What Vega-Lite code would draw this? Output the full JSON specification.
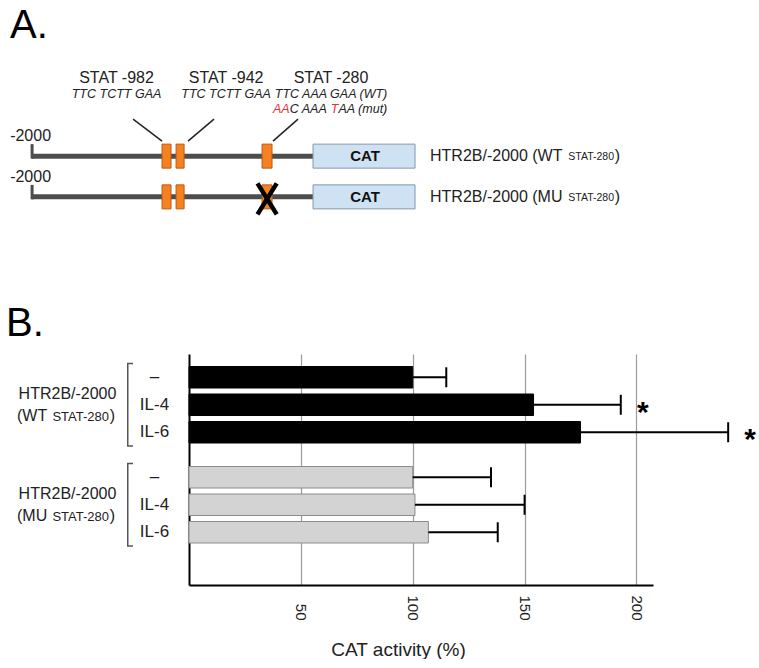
{
  "$schema": "https://vega.github.io/schema/vega-lite/v6.json",
  "padding": {"left": 6, "top": 6, "right": 0, "bottom": 0},
  "bounds": "flush",
  "spacing": 132,
  "config": {"view": {"stroke": null}, "font": "Liberation Sans", "text": {"font": "Liberation Sans", "color": "#222"}},
  "datasets": {
    "constructs": [
      {"row": "WT", "start": -2000, "cat_start": 0, "cat_end": 726, "label": "HTR2B/-2000 (WT", "small": "STAT-280"},
      {"row": "MU", "start": -2000, "cat_start": 0, "cat_end": 726, "label": "HTR2B/-2000 (MU", "small": "STAT-280"}
    ],
    "sites": [
      {"row": "WT", "site": "STAT -982", "seq": "TTC TCTT GAA", "pos": -1043, "start": -1075, "end": -1011, "label_at": -1399, "lead_from": -1075, "lead_to": -1281, "mutated": false},
      {"row": "WT", "site": "STAT -942", "seq": "TTC TCTT GAA", "pos": -947, "start": -975, "end": -918, "label_at": -619, "lead_from": -890, "lead_to": -705, "mutated": false},
      {"row": "WT", "site": "STAT -280", "seq": "TTC AAA GAA (WT)", "mut_a": "AA", "mut_b": "C AAA", "mut_c": "T", "mut_d": "AA (mut)", "pos": -327, "start": -363, "end": -292, "label_at": 128, "lead_from": -285, "lead_to": -107, "mutated": false},
      {"row": "MU", "site": "STAT -982", "pos": -1043, "start": -1075, "end": -1011, "mutated": false},
      {"row": "MU", "site": "STAT -942", "pos": -947, "start": -975, "end": -918, "mutated": false},
      {"row": "MU", "site": "STAT -280", "pos": -327, "start": -363, "end": -292, "mutated": true}
    ],
    "bars": [
      {"construct": "WT", "treatment": "–", "mean": 100, "upper": 115, "sig": ""},
      {"construct": "WT", "treatment": "IL-4", "mean": 154, "upper": 193, "sig": "*"},
      {"construct": "WT", "treatment": "IL-6", "mean": 175, "upper": 241, "sig": "*"},
      {"construct": "MU", "treatment": "–", "mean": 100, "upper": 135, "sig": ""},
      {"construct": "MU", "treatment": "IL-4", "mean": 101, "upper": 150, "sig": ""},
      {"construct": "MU", "treatment": "IL-6", "mean": 107, "upper": 138, "sig": ""}
    ],
    "groups": [
      {"construct": "WT", "name": "HTR2B/-2000", "open": "(WT", "small": "STAT-280"},
      {"construct": "MU", "name": "HTR2B/-2000", "open": "(MU", "small": "STAT-280"}
    ]
  },
  "vconcat": [
    {
      "width": 464,
      "height": 91,
      "title": {"text": "A.", "anchor": "start", "frame": "group", "fontSize": 40, "fontWeight": "normal", "color": "#000", "dx": -179, "offset": -8, "baseline": "alphabetic"},
      "layer": [
        {
          "data": {"name": "constructs"},
          "mark": {"type": "rule", "strokeWidth": 5, "color": "#4d4d4d"},
          "encoding": {
            "x": {"field": "start", "type": "quantitative", "scale": {"domain": [-883, 2420], "nice": false, "zero": false}, "axis": null},
            "x2": {"datum": 0},
            "y": {"field": "row", "type": "nominal", "scale": {"type": "point", "domain": ["WT", "MU"], "padding": 0.617}, "axis": null}
          }
        },
        {
          "data": {"name": "constructs"},
          "mark": {"type": "rule", "strokeWidth": 3, "color": "#4d4d4d", "yOffset": -12, "y2Offset": 2.5},
          "encoding": {
            "x": {"field": "start", "type": "quantitative"},
            "y": {"field": "row", "type": "nominal"},
            "y2": {"field": "row"}
          }
        },
        {
          "data": {"name": "constructs"},
          "mark": {"type": "text", "fontSize": 16, "align": "center", "baseline": "middle", "dy": -20, "dx": -1.5},
          "encoding": {
            "x": {"field": "start", "type": "quantitative"},
            "y": {"field": "row", "type": "nominal"},
            "text": {"field": "start", "type": "nominal"}
          }
        },
        {
          "data": {"name": "sites"},
          "mark": {"type": "bar", "size": 24, "fill": "#f58220", "stroke": "#c0561a", "strokeWidth": 1},
          "encoding": {
            "x": {"field": "start", "type": "quantitative"},
            "x2": {"field": "end"},
            "y": {"field": "row", "type": "nominal"}
          }
        },
        {
          "data": {"name": "constructs"},
          "mark": {"type": "bar", "size": 24, "fill": "#cfe2f3", "stroke": "#8696ab", "strokeWidth": 1},
          "encoding": {
            "x": {"field": "cat_start", "type": "quantitative"},
            "x2": {"field": "cat_end"},
            "y": {"field": "row", "type": "nominal"}
          }
        },
        {
          "data": {"name": "constructs"},
          "mark": {"type": "text", "text": "CAT", "fontSize": 15, "fontWeight": "bold", "align": "center", "baseline": "middle", "dx": 52, "color": "#111"},
          "encoding": {
            "x": {"field": "cat_start", "type": "quantitative"},
            "y": {"field": "row", "type": "nominal"}
          }
        },
        {
          "data": {"name": "constructs"},
          "mark": {"type": "text", "fontSize": 16, "align": "left", "baseline": "middle", "dx": 15},
          "encoding": {
            "x": {"field": "cat_end", "type": "quantitative"},
            "y": {"field": "row", "type": "nominal"},
            "text": {"field": "label"}
          }
        },
        {
          "data": {"name": "constructs"},
          "mark": {"type": "text", "fontSize": 10.5, "align": "right", "baseline": "middle", "dx": 199, "dy": 1},
          "encoding": {
            "x": {"field": "cat_end", "type": "quantitative"},
            "y": {"field": "row", "type": "nominal"},
            "text": {"field": "small"}
          }
        },
        {
          "data": {"name": "constructs"},
          "mark": {"type": "text", "text": ")", "fontSize": 16, "align": "right", "baseline": "middle", "dx": 205},
          "encoding": {
            "x": {"field": "cat_end", "type": "quantitative"},
            "y": {"field": "row", "type": "nominal"}
          }
        },
        {
          "data": {"name": "sites"},
          "transform": [{"filter": "datum.row === 'WT'"}],
          "mark": {"type": "rule", "strokeWidth": 1.5, "color": "#222", "yOffset": -15, "y2Offset": -37},
          "encoding": {
            "x": {"field": "lead_from", "type": "quantitative"},
            "x2": {"field": "lead_to"},
            "y": {"field": "row", "type": "nominal"},
            "y2": {"field": "row"}
          }
        },
        {
          "data": {"name": "sites"},
          "transform": [{"filter": "datum.row === 'WT'"}],
          "mark": {"type": "text", "fontSize": 16, "align": "center", "baseline": "middle", "dy": -78},
          "encoding": {
            "x": {"field": "label_at", "type": "quantitative"},
            "y": {"field": "row", "type": "nominal"},
            "text": {"field": "site"}
          }
        },
        {
          "data": {"name": "sites"},
          "transform": [{"filter": "datum.row === 'WT'"}],
          "mark": {"type": "text", "fontSize": 12.5, "fontStyle": "italic", "align": "center", "baseline": "middle", "dy": -62},
          "encoding": {
            "x": {"field": "label_at", "type": "quantitative"},
            "y": {"field": "row", "type": "nominal"},
            "text": {"field": "seq"}
          }
        },
        {
          "data": {"name": "sites"},
          "transform": [{"filter": "datum.row === 'WT' && datum.mut_a"}],
          "mark": {"type": "text", "color": "#e8303a", "fontSize": 12.5, "fontStyle": "italic", "align": "left", "baseline": "middle", "dy": -47, "dx": -58},
          "encoding": {
            "x": {"field": "label_at", "type": "quantitative"},
            "y": {"field": "row", "type": "nominal"},
            "text": {"field": "mut_a"}
          }
        },
        {
          "data": {"name": "sites"},
          "transform": [{"filter": "datum.row === 'WT' && datum.mut_a"}],
          "mark": {"type": "text", "fontSize": 12.5, "fontStyle": "italic", "align": "left", "baseline": "middle", "dy": -47, "dx": -41.3},
          "encoding": {
            "x": {"field": "label_at", "type": "quantitative"},
            "y": {"field": "row", "type": "nominal"},
            "text": {"field": "mut_b"}
          }
        },
        {
          "data": {"name": "sites"},
          "transform": [{"filter": "datum.row === 'WT' && datum.mut_a"}],
          "mark": {"type": "text", "color": "#e8303a", "fontSize": 12.5, "fontStyle": "italic", "align": "left", "baseline": "middle", "dy": -47, "dx": -0.3},
          "encoding": {
            "x": {"field": "label_at", "type": "quantitative"},
            "y": {"field": "row", "type": "nominal"},
            "text": {"field": "mut_c"}
          }
        },
        {
          "data": {"name": "sites"},
          "transform": [{"filter": "datum.row === 'WT' && datum.mut_a"}],
          "mark": {"type": "text", "fontSize": 12.5, "fontStyle": "italic", "align": "left", "baseline": "middle", "dy": -47, "dx": 7.4},
          "encoding": {
            "x": {"field": "label_at", "type": "quantitative"},
            "y": {"field": "row", "type": "nominal"},
            "text": {"field": "mut_d"}
          }
        },
        {
          "data": {"name": "sites"},
          "transform": [{"filter": "datum.mutated"}],
          "mark": {"type": "point", "shape": "M-0.62,-1L0.62,1M0.62,-1L-0.62,1", "size": 961, "filled": false, "stroke": "#000", "strokeWidth": 4.5, "opacity": 1, "yOffset": 2},
          "encoding": {
            "x": {"field": "pos", "type": "quantitative"},
            "y": {"field": "row", "type": "nominal"}
          }
        }
      ]
    },
    {
      "width": 464,
      "height": 231,
      "title": {"text": "B.", "anchor": "start", "frame": "group", "fontSize": 40, "fontWeight": "normal", "color": "#000", "dx": -183, "offset": -22, "baseline": "alphabetic"},
      "layer": [
        {
          "data": {"name": "bars"},
          "mark": {"type": "bar", "strokeWidth": 1},
          "encoding": {
            "x": {"field": "mean", "type": "quantitative", "scale": {"domain": [0, 207.4], "nice": false, "zero": true},
              "axis": {"values": [50, 100, 150, 200], "grid": true, "gridColor": "#9c9c9c", "gridWidth": 1.2, "ticks": false, "domainColor": "#000", "domainWidth": 2, "labelAngle": 90, "labelAlign": "right", "labelBaseline": "middle", "labelPadding": 35, "labelFontSize": 15, "labelColor": "#222", "labelOverlap": false, "labelFlush": false, "title": "CAT activity (%)", "titleFontSize": 19, "titleFontWeight": "normal", "titleColor": "#222", "titleX": 209, "titleY": 64, "titleAlign": "center", "titleBaseline": "middle"}},
            "y": {"field": "construct", "type": "nominal", "scale": {"domain": ["WT", "MU"], "paddingInner": 0.175, "paddingOuter": 0.2425, "align": 0.196},
              "axis": {"labels": false, "ticks": false, "title": null, "domainColor": "#000", "domainWidth": 2, "grid": false}},
            "yOffset": {"field": "treatment", "type": "nominal", "scale": {"domain": ["–", "IL-4", "IL-6"], "paddingInner": 0.218, "paddingOuter": 0.109}},
            "fill": {"field": "construct", "type": "nominal", "scale": {"domain": ["WT", "MU"], "range": ["#000000", "#d3d3d3"]}, "legend": null},
            "stroke": {"field": "construct", "type": "nominal", "scale": {"domain": ["WT", "MU"], "range": ["#000000", "#8c8c8c"]}, "legend": null}
          }
        },
        {
          "data": {"name": "bars"},
          "mark": {"type": "rule", "strokeWidth": 2, "color": "#000"},
          "encoding": {
            "x": {"field": "mean", "type": "quantitative"},
            "x2": {"field": "upper"},
            "y": {"field": "construct", "type": "nominal"},
            "yOffset": {"field": "treatment", "type": "nominal"}
          }
        },
        {
          "data": {"name": "bars"},
          "mark": {"type": "tick", "size": 20, "thickness": 2, "color": "#000", "opacity": 1},
          "encoding": {
            "x": {"field": "upper", "type": "quantitative"},
            "y": {"field": "construct", "type": "nominal"},
            "yOffset": {"field": "treatment", "type": "nominal"}
          }
        },
        {
          "data": {"name": "bars"},
          "transform": [{"filter": "datum.sig === '*'"}],
          "mark": {"type": "text", "fontSize": 30, "fontWeight": "bold", "color": "#000", "align": "center", "baseline": "middle", "dx": 22, "dy": 8},
          "encoding": {
            "x": {"field": "upper", "type": "quantitative"},
            "y": {"field": "construct", "type": "nominal"},
            "yOffset": {"field": "treatment", "type": "nominal"},
            "text": {"field": "sig"}
          }
        },
        {
          "data": {"name": "bars"},
          "mark": {"type": "text", "fontSize": 17, "align": "center", "baseline": "middle", "dx": -34.5},
          "encoding": {
            "x": {"datum": 0},
            "y": {"field": "construct", "type": "nominal"},
            "yOffset": {"field": "treatment", "type": "nominal"},
            "text": {"field": "treatment"}
          }
        },
        {
          "data": {"name": "groups"},
          "mark": {"type": "text", "fontSize": 16, "align": "center", "baseline": "middle", "dx": -121.5, "dy": -11},
          "encoding": {
            "x": {"datum": 0},
            "y": {"field": "construct", "type": "nominal"},
            "text": {"field": "name"}
          }
        },
        {
          "data": {"name": "groups"},
          "mark": {"type": "text", "fontSize": 16, "align": "left", "baseline": "middle", "dx": -172, "dy": 11},
          "encoding": {
            "x": {"datum": 0},
            "y": {"field": "construct", "type": "nominal"},
            "text": {"field": "open"}
          }
        },
        {
          "data": {"name": "groups"},
          "mark": {"type": "text", "fontSize": 13, "align": "right", "baseline": "middle", "dx": -80, "dy": 12},
          "encoding": {
            "x": {"datum": 0},
            "y": {"field": "construct", "type": "nominal"},
            "text": {"field": "small"}
          }
        },
        {
          "data": {"name": "groups"},
          "mark": {"type": "text", "text": ")", "fontSize": 16, "align": "right", "baseline": "middle", "dx": -74, "dy": 11},
          "encoding": {
            "x": {"datum": 0},
            "y": {"field": "construct", "type": "nominal"}
          }
        },
        {
          "data": {"name": "groups"},
          "mark": {"type": "rect", "fill": "#555", "xOffset": -62, "x2Offset": -60.5},
          "encoding": {
            "x": {"datum": 0},
            "x2": {"datum": 0},
            "y": {"field": "construct", "type": "nominal"}
          }
        },
        {
          "data": {"name": "groups"},
          "mark": {"type": "rule", "strokeWidth": 1.5, "color": "#555", "xOffset": -62, "x2Offset": -56},
          "encoding": {
            "x": {"datum": 0},
            "x2": {"datum": 0},
            "y": {"field": "construct", "type": "nominal", "bandPosition": 0}
          }
        },
        {
          "data": {"name": "groups"},
          "mark": {"type": "rule", "strokeWidth": 1.5, "color": "#555", "xOffset": -62, "x2Offset": -56},
          "encoding": {
            "x": {"datum": 0},
            "x2": {"datum": 0},
            "y": {"field": "construct", "type": "nominal", "bandPosition": 1}
          }
        }
      ]
    }
  ]
}
